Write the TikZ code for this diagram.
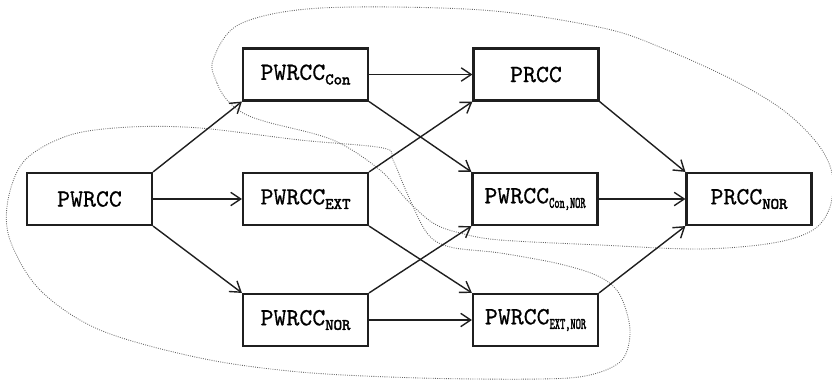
\documentclass[tikz,border=0pt]{standalone}
\usepackage{fontspec}
\usepackage{graphicx}
\usetikzlibrary{arrows.meta}

% typewriter faces: labels, and heavy indices
\newfontfamily\lblfont{lmmono10-regular}[Extension=.otf, FakeBold=0.6]
\newfontfamily\idxfont{lmmono10-regular}[Extension=.otf, FakeBold=2.6]

% subscript in bold, lowered below the baseline
\newcommand\subs[1]{\raisebox{-3.4pt}{\idxfont\fontsize{12}{12}\selectfont #1}}
% condensed subscript for two-part indices
\newcommand\subsn[1]{\raisebox{-3.4pt}{\scalebox{0.62}[1]{\idxfont\fontsize{12}{12}\selectfont #1}}}

\tikzset{
  box/.style={draw=black!88, line width=1.6pt, minimum width=93.75pt,
    minimum height=39pt, inner sep=0pt,
    font=\lblfont\fontsize{18.5}{20}\selectfont},
  conn/.style={draw=black!88, line width=1.05pt,
    -{Straight Barb[length=7.5pt,width=10pt,line width=1.05pt]}},
  region/.style={draw=black!60, densely dotted, line width=0.65pt}
}

\begin{document}
\begin{tikzpicture}[x=0.75pt,y=-0.75pt]
\useasboundingbox (0,0) rectangle (832,387);

% grouping regions
\draw[region] plot[smooth cycle, tension=0.55] coordinates {
  (213,60) (217,83) (227,100) (243,113) (267,122) (333,140) (380,170)
  (407,200) (433,223) (460,233) (500,240) (600,245) (700,249) (773,243)
  (813,230) (830,207) (832,173) (817,143) (783,110) (733,80) (667,50)
  (603,28) (482,10) (321,8) (240,24)};
\draw[region] plot[smooth cycle, tension=0.55] coordinates {
  (200,128) (300,140) (383,148) (393,160) (407,193) (427,233) (450,247)
  (500,253) (560,264) (600,277) (620,295) (630,330) (622,360) (590,375)
  (540,379) (420,378) (300,372) (200,358) (100,330) (40,290) (10,240)
  (8,200) (25,160) (70,135) (130,127)};

% nodes
\node[box] (p)    at (89.5,199)  {PWRCC};
\node[box] (pc)   at (305.5,74.5) {PWRCC\subs{Con}};
\node[box] (pe)   at (305.5,199) {PWRCC\subs{EXT}};
\node[box] (pn)   at (305.5,320) {PWRCC\subs{NOR}};
\node[box] (r)    at (536,74.5)  {PRCC};
\node[box] (pcn)  at (535,199)   {PWRCC\subsn{Con,NOR}};
\node[box] (pen)  at (535.5,320) {PWRCC\subsn{EXT,NOR}};
\node[box] (rn)   at (749,199)   {PRCC\subs{NOR}};

% connectors
\draw[conn] (p.north east) -- (pc.south west);
\draw[conn] (p.east) -- (pe.west);
\draw[conn] (p.south east) -- (pn.north west);
\draw[conn] (pc.east) -- (r.west);
\draw[conn] (pc.south east) -- (pcn.north west);
\draw[conn] (pe.north east) -- (r.south west);
\draw[conn] (pe.south east) -- (pen.north west);
\draw[conn] (pn.north east) -- (pcn.south west);
\draw[conn] (pn.east) -- (pen.west);
\draw[conn] (r.south east) -- (rn.north west);
\draw[conn] (pcn.east) -- (rn.west);
\draw[conn] (pen.north east) -- (rn.south west);
\end{tikzpicture}
\end{document}
